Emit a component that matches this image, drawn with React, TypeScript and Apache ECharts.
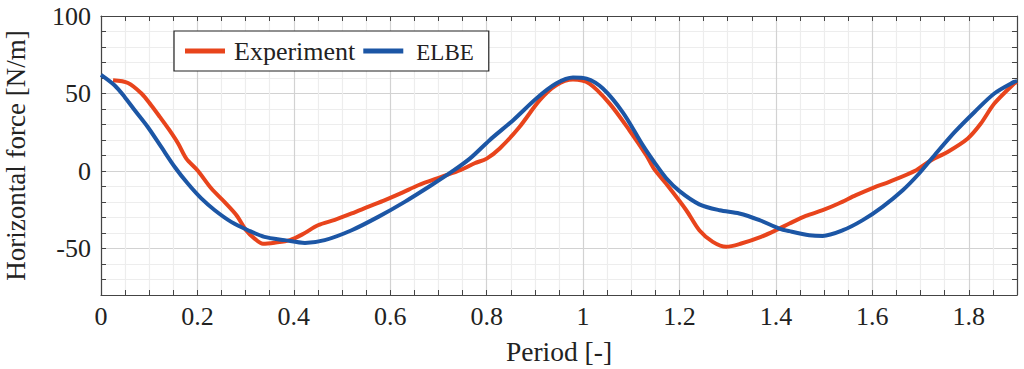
import React, { useEffect, useRef } from "react";
import * as echarts from "echarts";

const expX = [0.025, 0.056, 0.084, 0.104, 0.122, 0.142, 0.16, 0.177, 0.2, 0.229, 0.256, 0.281, 0.301, 0.318, 0.336, 0.36, 0.392, 0.42, 0.45, 0.485, 0.52, 0.555, 0.589, 0.625, 0.658, 0.706, 0.745, 0.775, 0.8, 0.827, 0.868, 0.91, 0.944, 0.979, 1.013, 1.055, 1.096, 1.131, 1.148, 1.172, 1.214, 1.241, 1.269, 1.297, 1.328, 1.369, 1.4, 1.428, 1.462, 1.497, 1.53, 1.566, 1.604, 1.635, 1.691, 1.722, 1.756, 1.798, 1.825, 1.853, 1.894, 1.9];
const expY = [58.5, 56.8, 50, 42.4, 34.9, 26.3, 17.7, 8, 0.5, -11.3, -19.9, -28.5, -38.2, -43.5, -47, -46.3, -44.6, -40.5, -35, -31.5, -27.4, -23, -18.8, -14, -9.2, -3.8, 0.5, 5, 8, 14.5, 28.4, 45.7, 55.3, 59, 56.4, 43.5, 26.3, 10.2, 1, -8.1, -25.3, -38.2, -45.7, -48.9, -46.8, -42.5, -38.2, -33.9, -29, -25.3, -21, -15.6, -10.5, -7, 0.5, 7, 12.3, 21, 30.6, 43.5, 56.4, 57.5];

const elbeX = [0, 0.028, 0.049, 0.07, 0.097, 0.125, 0.153, 0.18, 0.208, 0.236, 0.27, 0.305, 0.339, 0.381, 0.423, 0.464, 0.52, 0.575, 0.63, 0.685, 0.727, 0.765, 0.806, 0.855, 0.903, 0.944, 0.979, 1.007, 1.041, 1.083, 1.124, 1.148, 1.172, 1.2, 1.241, 1.283, 1.324, 1.366, 1.407, 1.428, 1.469, 1.497, 1.539, 1.58, 1.621, 1.663, 1.697, 1.729, 1.771, 1.812, 1.853, 1.894, 1.9];
const elbeY = [62, 55.3, 47.8, 39.2, 28.4, 15.5, 2.6, -8.1, -17.7, -25.3, -32.8, -38.2, -42.5, -44.6, -46.4, -44.6, -38.2, -29.6, -19.9, -9.2, -0.6, 8, 19.9, 32.8, 46.8, 56.4, 60.3, 59.6, 53.2, 37.5, 16.5, 5.5, -4.5, -13, -21.5, -25.3, -27.4, -31.7, -37.1, -38.8, -41.4, -41.9, -38.2, -31.7, -23.1, -12.4, -1.6, 10.2, 25.2, 38.1, 50, 57.5, 58];

const xMajorLabels = [0, 0.2, 0.4, 0.6, 0.8, 1, 1.2, 1.4, 1.6, 1.8];
const yMajorLabels = [-50, 0, 50, 100];

const FONT = "Liberation Serif";
const MAJOR = "#d2d2d2";
const MINOR = "#ededed";
const AXIS = "#444444";

export default function App() {
  const ref = useRef<HTMLDivElement>(null);
  useEffect(() => {
    document.body.style.margin = "0";
    const chart = echarts.init(ref.current!, undefined, { renderer: "svg" });
    const xLabel = (v: number) => {
      const hit = xMajorLabels.find((m) => Math.abs(m - v) < 1e-6);
      return hit === undefined ? "" : String(hit);
    };
    const yLabel = (v: number) => {
      const hit = yMajorLabels.find((m) => Math.abs(m - v) < 1e-6);
      return hit === undefined ? "" : String(hit);
    };
    const xCommon = {
      type: "value",
      min: 0,
      max: 1.9,
      interval: 0.05,
      axisLine: { show: true, onZero: false, lineStyle: { color: AXIS, width: 1.2 } },
      axisTick: { show: true, inside: true, length: 5, lineStyle: { color: AXIS } },
    };
    const yCommon = {
      type: "value",
      min: -80,
      max: 100,
      interval: 10,
      axisLine: { show: true, onZero: false, lineStyle: { color: AXIS, width: 1.2 } },
      axisTick: { show: true, inside: true, length: 5, lineStyle: { color: AXIS } },
    };
    chart.setOption({
      animation: false,
      backgroundColor: "#fff",
      textStyle: { fontFamily: FONT },
      grid: { left: 101, top: 16, right: 7, bottom: 74, containLabel: false, outerBoundsMode: "none" },
      legend: {
        left: 174,
        top: 31,
        orient: "horizontal",
        backgroundColor: "#fff",
        borderColor: "#222",
        borderWidth: 1.2,
        borderRadius: 0,
        padding: [7, 15, 7, 11],
        itemGap: 8,
        itemWidth: 40,
        itemHeight: 5,
        icon: "rect",
        textStyle: {
          fontFamily: FONT,
          fontSize: 26,
          color: "#222",
          padding: [0, 0, 0, 4],
          rich: { sc: { fontFamily: FONT, fontSize: 23, color: "#222", padding: [2, 0, 0, 4] } },
        },
        formatter: (n: string) => (n === "ELBE" ? "{sc|ELBE}" : n),
        data: ["Experiment", "ELBE"],
      },
      xAxis: [
        {
          ...xCommon,
          position: "bottom",
          name: "Period [-]",
          nameLocation: "middle",
          nameGap: 42,
          nameTextStyle: { fontFamily: FONT, fontSize: 27.5, color: "#222" },
          axisLabel: { formatter: xLabel, fontFamily: FONT, fontSize: 26, color: "#222", margin: 8 },
          splitLine: { show: true, lineStyle: { color: [MAJOR, MINOR, MINOR, MINOR], width: 1.2 } },
        },
        {
          ...xCommon,
          position: "top",
          axisLabel: { show: false },
          splitLine: { show: false },
        },
      ],
      yAxis: [
        {
          ...yCommon,
          position: "left",
          name: "Horizontal force [N/m]",
          nameLocation: "middle",
          nameGap: 72,
          nameTextStyle: { fontFamily: FONT, fontSize: 27, color: "#222" },
          axisLabel: { formatter: yLabel, fontFamily: FONT, fontSize: 26, color: "#222", margin: 10 },
          splitLine: { show: true, lineStyle: { color: [MINOR, MINOR, MINOR, MAJOR, MINOR], width: 1.2 } },
        },
        {
          ...yCommon,
          position: "right",
          axisLabel: { show: false },
          splitLine: { show: false },
        },
      ],
      series: [
        {
          name: "Experiment",
          type: "line",
          data: expX.map((x, i) => [x, expY[i]]),
          showSymbol: false,
          smooth: 0.3,
          lineStyle: { color: "#e8441c", width: 4 },
          itemStyle: { color: "#e8441c" },
          z: 3,
        },
        {
          name: "ELBE",
          type: "line",
          data: elbeX.map((x, i) => [x, elbeY[i]]),
          showSymbol: false,
          smooth: 0.3,
          lineStyle: { color: "#1c56a5", width: 4 },
          itemStyle: { color: "#1c56a5" },
          z: 4,
        },
      ],
    });
    return () => chart.dispose();
  }, []);
  return <div ref={ref} style={{ position: "absolute", left: 0, top: 0, width: 1024, height: 369 }} />;
}
